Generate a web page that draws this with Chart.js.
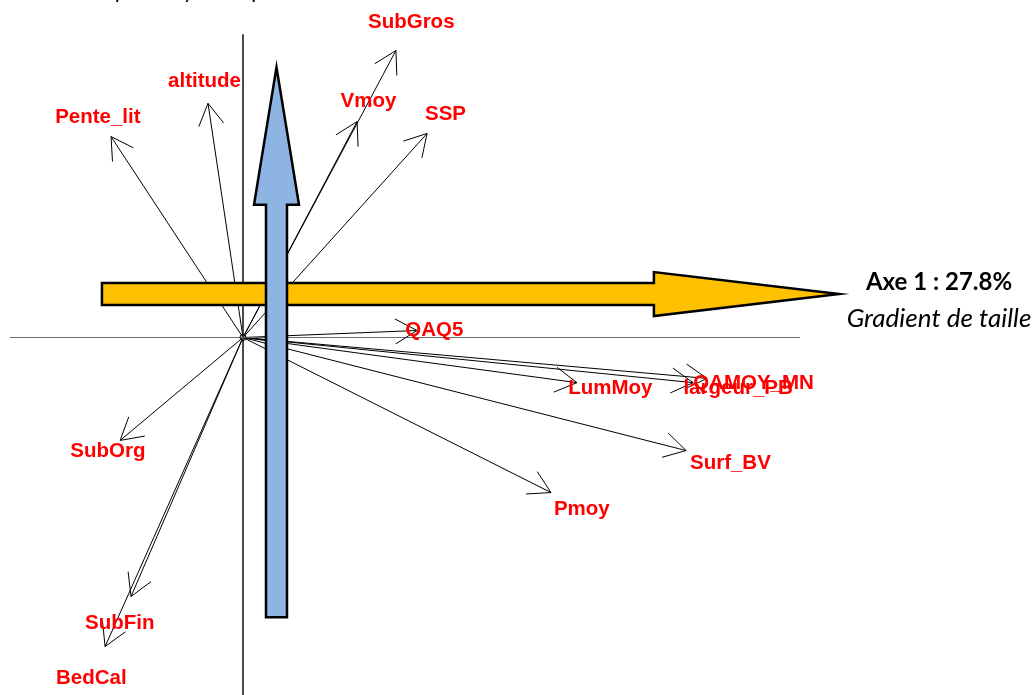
<!DOCTYPE html>
<html>
<head>
<meta charset="utf-8">
<script src="https://cdn.jsdelivr.net/npm/chart.js@4"></script>
<style>
  html, body { margin: 0; padding: 0; background: #fff; }
  #c { display: block; }
</style>
</head>
<body>
<canvas id="c" width="1033" height="695"></canvas>
<script>
// variable loadings on the two first axes
const variables = ['SubGros', 'Vmoy', 'SSP', 'altitude', 'Pente_lit', 'QAQ5', 'LumMoy',
  'largeur_PB', 'QAMOY_MN', 'Surf_BV', 'Pmoy', 'SubOrg', 'SubFin', 'BedCal'];
const axis1 = [0.437, 0.326, 0.526, -0.100, -0.377, 0.497, 0.954,
  1.286, 1.326, 1.266, 0.880, -0.351, -0.320, -0.394];
const axis2 = [0.820, 0.617, 0.583, 0.669, 0.574, 0.020, -0.129,
  -0.129, -0.117, -0.323, -0.443, -0.294, -0.740, -0.883];

// axis texts
const axis1Title = 'Axe 1 : 27.8%';
const axis1Subtitle = 'Gradient de taille';
const axis2Subtitle = 'Gradient de pente hydraulique';

const labelFactor = 1.1; // labels sit a bit beyond the arrow tip

const vectorSets = variables.map((name, i) => ({
  label: name,
  data: [{ x: 0, y: 0 }, { x: axis1[i], y: axis2[i] }],
  showLine: true,
  borderColor: '#000',
  borderWidth: 1,
  pointRadius: 0,
}));

const axisSets = [
  { label: 'h', data: [{ x: -0.666, y: 0 }, { x: 1.591, y: 0 }], showLine: true,
    borderColor: '#6b6b6b', borderWidth: 1, pointRadius: 0 },
  { label: 'v', data: [{ x: 0, y: 0.866 }, { x: 0, y: -1.1 }], showLine: true,
    borderColor: '#333', borderWidth: 1, pointRadius: 0 },
];

const shape = (ctx, pts, fill) => {
  ctx.beginPath();
  pts.forEach(([x, y], k) => (k ? ctx.lineTo(x, y) : ctx.moveTo(x, y)));
  ctx.closePath();
  ctx.fillStyle = fill;
  ctx.fill();
  ctx.lineWidth = 2.5;
  ctx.strokeStyle = '#000';
  ctx.lineJoin = 'miter';
  ctx.stroke();
};

const biplot = {
  id: 'biplot',
  afterDatasetsDraw(chart) {
    const ctx = chart.ctx;
    const sx = chart.scales.x, sy = chart.scales.y;
    const x0 = sx.getPixelForValue(0), y0 = sy.getPixelForValue(0);
    ctx.save();

    // arrow heads
    ctx.strokeStyle = '#000';
    ctx.lineWidth = 1;
    variables.forEach((name, i) => {
      const x = sx.getPixelForValue(axis1[i]), y = sy.getPixelForValue(axis2[i]);
      const a = Math.atan2(y0 - y, x0 - x);
      ctx.beginPath();
      ctx.moveTo(x + 25 * Math.cos(a + Math.PI / 6), y + 25 * Math.sin(a + Math.PI / 6));
      ctx.lineTo(x, y);
      ctx.lineTo(x + 25 * Math.cos(a - Math.PI / 6), y + 25 * Math.sin(a - Math.PI / 6));
      ctx.stroke();
    });

    // origin
    ctx.beginPath();
    ctx.arc(x0, y0, 3, 0, Math.PI * 2);
    ctx.stroke();

    // labels
    ctx.fillStyle = '#ff0000';
    ctx.font = 'bold 20.5px "Liberation Sans", Arial, sans-serif';
    ctx.textAlign = 'center';
    ctx.textBaseline = 'middle';
    variables.forEach((name, i) => {
      ctx.fillText(name,
        sx.getPixelForValue(axis1[i] * labelFactor),
        sy.getPixelForValue(axis2[i] * labelFactor) + 1);
    });

    // big yellow arrow (axis 1)
    const yc = sy.getPixelForValue(0.124);
    const xa = sx.getPixelForValue(-0.403), xb = sx.getPixelForValue(1.174), xt = sx.getPixelForValue(1.703);
    shape(ctx, [[xa, yc - 11], [xb, yc - 11], [xb, yc - 22], [xt, yc], [xb, yc + 22], [xb, yc + 11], [xa, yc + 11]], '#ffc000');

    // big blue arrow (axis 2)
    const xc = sx.getPixelForValue(0.0957);
    const ya = sy.getPixelForValue(-0.799), yb = sy.getPixelForValue(0.379), yt = sy.getPixelForValue(0.772);
    shape(ctx, [[xc - 10.5, ya], [xc - 10.5, yb], [xc - 22.5, yb], [xc, yt], [xc + 22.5, yb], [xc + 10.5, yb], [xc + 10.5, ya]], '#8eb4e3');

    // axis texts
    ctx.fillStyle = '#000';
    ctx.textAlign = 'center';
    ctx.textBaseline = 'alphabetic';
    ctx.font = 'bold 24px Lato, "Open Sans", sans-serif';
    ctx.fillText(axis1Title, 939, 290);
    ctx.font = 'italic 26px Lato, "Open Sans", sans-serif';
    ctx.fillText(axis1Subtitle, 939, 327);
    ctx.textAlign = 'left';
    ctx.font = 'italic 22px Lato, "Open Sans", sans-serif';
    ctx.fillText(axis2Subtitle, 4, -2);

    ctx.restore();
  }
};

new Chart(document.getElementById('c'), {
  type: 'scatter',
  data: { datasets: [...axisSets, ...vectorSets] },
  options: {
    responsive: false,
    animation: false,
    layout: { padding: 0 },
    plugins: { legend: { display: false }, tooltip: { enabled: false } },
    scales: {
      x: { type: 'linear', min: -243 / 350, max: 790 / 350, display: false },
      y: { type: 'linear', min: -357.5 / 350, max: 337.5 / 350, display: false },
    },
  },
  plugins: [biplot],
});
</script>
</body>
</html>
